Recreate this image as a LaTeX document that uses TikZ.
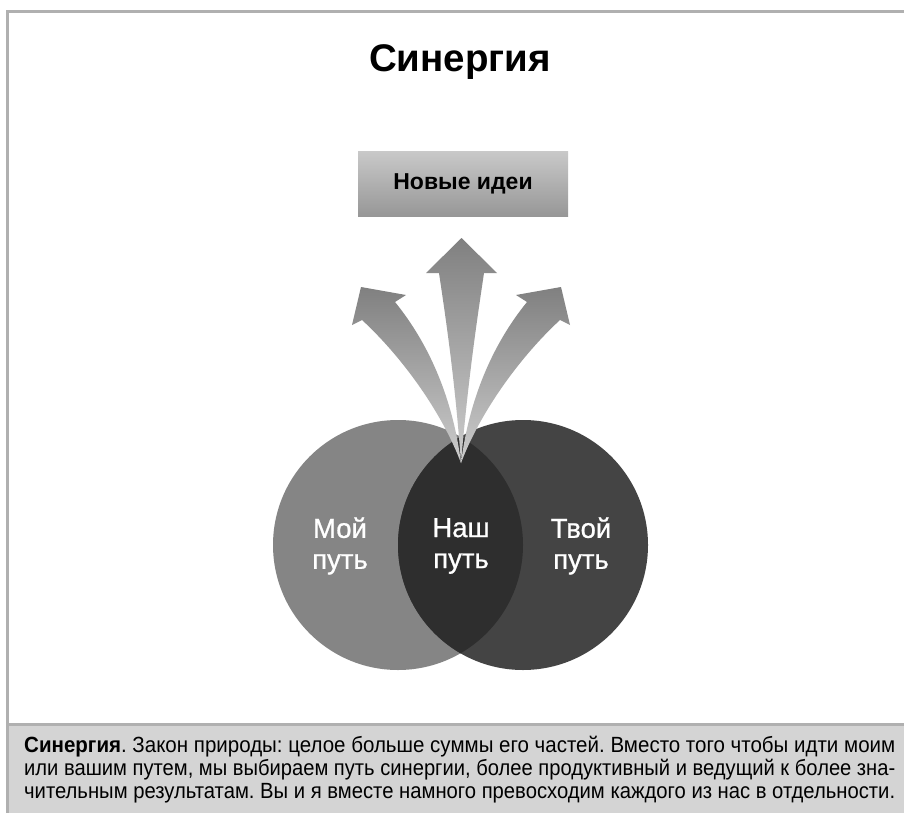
\documentclass[tikz,border=0pt]{standalone}
\usepackage{graphicx}
\usepackage{fontspec}
\setmainfont{Liberation Sans}
\newfontfamily\vennfont[FakeBold=0.8]{Liberation Sans}
\newsavebox\capbox
\newlength\capwd
\newcommand\fitcapline[1]{\sbox\capbox{#1}\setlength\capwd{\wd\capbox}\pgfmathsetmacro\fitratio{871/\the\capwd}\scalebox{\fitratio}[1]{\usebox\capbox}}
\definecolor{framec}{HTML}{B0B0B0}
\definecolor{bandc}{HTML}{D4D4D4}
\definecolor{circL}{HTML}{858585}
\definecolor{circR}{HTML}{444444}
\definecolor{lensc}{HTML}{2E2E2E}
\definecolor{arrTop}{HTML}{808080}
\definecolor{arrBot}{HTML}{CDCDCD}
\definecolor{boxTop}{HTML}{C8C8C8}
\definecolor{boxBot}{HTML}{979797}
\begin{document}
\frenchspacing
\begin{tikzpicture}[x=1pt,y=-1pt,
  frameline/.style={draw=framec,line width=3pt},
  venn/.style={circle,minimum size=250pt,inner sep=0pt},
  venntext/.style={text=white,align=center,font=\vennfont\fontsize{27.5}{31}\selectfont},
  arrowshape/.style={top color=arrTop,bottom color=arrBot},
  captionline/.style={anchor=base west,inner sep=0pt,font=\fontsize{22}{25}\selectfont}]
\useasboundingbox (0,0) rectangle (904,813);
\fill[white] (0,0) rectangle (904,813);
% caption band
\fill[bandc] (7,724) rectangle (904,813);
\draw[frameline] (7,724) -- (904,724);
% frame
\draw[frameline] (7.5,813) -- (7.5,11.5) -- (904,11.5);
% title
\node[anchor=base,inner sep=0pt,font=\fontsize{38.5}{44}\selectfont\bfseries] (title) at (460,72) {Синергия};
% box
\node[minimum width=210pt,minimum height=64pt,inner sep=0pt,top color=boxTop,bottom color=boxBot,
  font=\fontsize{23}{27}\selectfont\bfseries] (ideas) at (463,184) {Новые идеи};
% circles
\node[venn,fill=circL] (mine) at (398,545) {};
\node[venn,fill=circR] (yours) at (523,545) {};
\begin{scope}
  \clip (mine.center) circle (125pt);
  \fill[lensc] (yours.center) circle (125pt);
\end{scope}
% arrows
\coordinate (src) at (461,463);
\shade[arrowshape] (src) .. controls (453,400) and (430,345) .. (395,302)
  -- (406,295) -- (361,287) -- (352,325) -- (362,320)
  .. controls (400,355) and (441,410) .. (src) -- cycle;
\shade[arrowshape] (src) .. controls (469,400) and (492,345) .. (527,302)
  -- (516,295) -- (561,287) -- (570,325) -- (560,320)
  .. controls (522,355) and (481,410) .. (src) -- cycle;
\shade[arrowshape] (src) .. controls (455,380) and (446,320) .. (439,273)
  -- (426,273) -- (461.5,238) -- (497,273) -- (484,273)
  .. controls (477,320) and (468,380) .. (src) -- cycle;
% circle texts
\node[venntext] (mytext) at (340,546) {Мой\\путь};
\node[venntext] (ourtext) at (461,546) {Наш\\путь};
\node[venntext] (yourtext) at (581,546) {Твой\\путь};
% caption
\node[captionline] (cap1) at (24,752) {\fitcapline{\textbf{Синергия}. Закон природы: целое больше суммы его частей. Вместо того чтобы идти моим}};
\node[captionline] (cap2) at (24,775) {\fitcapline{или вашим путем, мы выбираем путь синергии, более продуктивный и ведущий к более зна-}};
\node[captionline] (cap3) at (24,798) {\fitcapline{чительным результатам. Вы и я вместе намного превосходим каждого из нас в отдельности.}};
\end{tikzpicture}
\end{document}
